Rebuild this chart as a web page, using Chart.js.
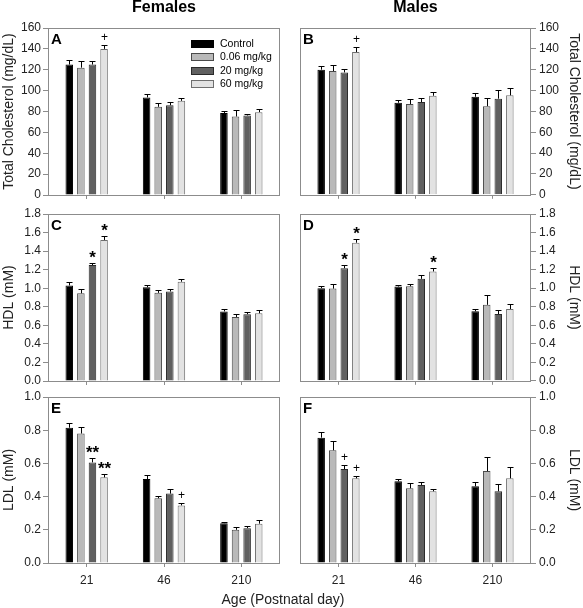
<!DOCTYPE html>
<html lang="en">
<head>
<meta charset="UTF-8">
<title>cholesterol</title>
<style>
    body { margin: 0; background: #fff; width: 583px; height: 608px; position: relative; overflow: hidden;
           font-family: "Liberation Sans", Arial, sans-serif; }
    canvas { position: absolute; }
    #xtitle { position: absolute; left: 0; width: 566px; top: 591px; text-align: center;
              font-size: 14px; line-height: 16px; color: #222; }
</style>
</head>
<body>

<canvas id="cA" width="290" height="205" style="left:0;top:0"></canvas>
<canvas id="cB" width="293" height="205" style="left:290px;top:0"></canvas>
<canvas id="cC" width="290" height="196" style="left:0;top:195px"></canvas>
<canvas id="cD" width="293" height="196" style="left:290px;top:195px"></canvas>
<canvas id="cE" width="290" height="212" style="left:0;top:381px"></canvas>
<canvas id="cF" width="293" height="212" style="left:290px;top:381px"></canvas>
<div id="xtitle">Age (Postnatal day)</div>

<script src="https://cdn.jsdelivr.net/npm/chart.js"></script>

<script>
    const ages = ["21", "46", "210"];
    const doses = ["Control", "0.06 mg/kg", "20 mg/kg", "60 mg/kg"];

    // tick labels per row
    const tcTicks = ["0", "20", "40", "60", "80", "100", "120", "140", "160"];
    const hdlTicks = ["0.0", "0.2", "0.4", "0.6", "0.8", "1.0", "1.2", "1.4", "1.6", "1.8"];
    const ldlTicks = ["0.0", "0.2", "0.4", "0.6", "0.8", "1.0"];

    // one row per dose, one value per age (21, 46, 210)
    const tcFemale = [[125, 93.5, 78.5], [122, 84.5, 75.2], [125, 86, 76.2], [140, 90.2, 79.4]];
    const tcFemaleErr = [[4, 3.5, 2.2], [6, 3.5, 6.4], [3, 3, 1.5], [3.5, 2.6, 3]];
    const tcFemaleSig = [["", "", ""], ["", "", ""], ["", "", ""], ["+", "", ""]];

    const tcMale = [[120, 88.3, 94], [118.7, 87, 85], [117.4, 89, 92.2], [137, 95, 95.4]];
    const tcMaleErr = [[3.5, 2.3, 3.5], [5.8, 4.8, 7.7], [3.2, 3.5, 8.3], [5, 3.2, 7.4]];
    const tcMaleSig = [["", "", ""], ["", "", ""], ["", "", ""], ["+", "", ""]];

    const hdlFemale = [[1.03, 1.01, 0.75], [0.945, 0.95, 0.69], [1.25, 0.965, 0.72], [1.52, 1.07, 0.73]];
    const hdlFemaleErr = [[0.033, 0.029, 0.022], [0.047, 0.036, 0.029], [0.022, 0.025, 0.022], [0.046, 0.025, 0.036]];
    const hdlFemaleSig = [["", "", ""], ["", "", ""], ["*", "", ""], ["*", "", ""]];

    const hdlMale = [[1.0, 1.017, 0.75], [0.995, 1.02, 0.82], [1.215, 1.10, 0.72], [1.49, 1.18, 0.775]];
    const hdlMaleErr = [[0.02, 0.014, 0.022], [0.047, 0.029, 0.104], [0.033, 0.04, 0.047], [0.043, 0.04, 0.058]];
    const hdlMaleSig = [["", "", ""], ["", "", ""], ["*", "", ""], ["*", "*", ""]];

    const ldlFemale = [[0.815, 0.506, 0.24], [0.78, 0.39, 0.2], [0.606, 0.418, 0.21], [0.516, 0.347, 0.237]];
    const ldlFemaleErr = [[0.03, 0.026, 0.01], [0.04, 0.012, 0.014], [0.025, 0.028, 0.012], [0.022, 0.012, 0.02]];
    const ldlFemaleSig = [["", "", ""], ["", "", ""], ["**", "", ""], ["**", "+", ""]];

    const ldlMale = [[0.755, 0.492, 0.462], [0.679, 0.45, 0.554], [0.566, 0.47, 0.432], [0.51, 0.432, 0.51]];
    const ldlMaleErr = [[0.032, 0.016, 0.028], [0.054, 0.034, 0.087], [0.026, 0.016, 0.046], [0.016, 0.016, 0.068]];
    const ldlMaleSig = [["", "", ""], ["", "", ""], ["+", "", ""], ["+", "", ""]];

    const fills = ["#000000", "#b9b9b9", "#606060", "#e2e2e2"];
    const edges = ["#000000", "#4a4a4a", "#2a2a2a", "#6e6e6e"];
    const FONT = '"Liberation Sans", Arial, sans-serif';
    const boxGray = "#8c8c8c";

    Chart.defaults.font.family = FONT;
    Chart.defaults.color = "#222";

    // draws error bars, significance marks, frame, panel letter and (panel A) the legend
    function panelPlugin(p) {
        return {
            id: "panel" + p.letter,
            afterDatasetsDraw(chart) {
                const ctx = chart.ctx, a = chart.chartArea, ys = chart.scales.y;
                ctx.save();
                chart.data.datasets.forEach((ds, i) => {
                    chart.getDatasetMeta(i).data.forEach((bar, j) => {
                        const x = Math.round(bar.x) + 0.5;
                        const top = Math.round(ys.getPixelForValue(ds.data[j] + p.err[i][j])) + 0.5;
                        ctx.strokeStyle = "#000";
                        ctx.lineWidth = 1;
                        ctx.beginPath();
                        ctx.moveTo(x, bar.y);
                        ctx.lineTo(x, top);
                        ctx.moveTo(x - 3, top);
                        ctx.lineTo(x + 3, top);
                        ctx.stroke();
                        const s = p.sig[i][j];
                        if (s) {
                            ctx.fillStyle = "#000";
                            ctx.textAlign = "center";
                            ctx.textBaseline = "alphabetic";
                            if (s === "+") {
                                ctx.font = "12px " + FONT;
                                ctx.fillText(s, x, top - 5);
                            } else {
                                ctx.font = "bold 17px " + FONT;
                                ctx.fillText(s, x, top - 1);
                            }
                        }
                    });
                });
                // frame round the plot
                ctx.strokeStyle = boxGray;
                ctx.lineWidth = 1;
                ctx.strokeRect(Math.round(a.left) + 0.5, Math.round(a.top) + 0.5,
                    Math.round(a.width) - 1, Math.round(a.height));
                // panel letter
                ctx.fillStyle = "#000";
                ctx.textAlign = "left";
                ctx.textBaseline = "alphabetic";
                ctx.font = "bold 15px " + FONT;
                ctx.fillText(p.letter, a.left + 3, a.top + 15.5);
                if (p.legend) {
                    ctx.font = "10.5px " + FONT;
                    chart.data.datasets.forEach((ds, i) => {
                        const bx = Math.round(a.left + 143), by = Math.round(a.top + 12 + i * 13.4);
                        ctx.fillStyle = ds.backgroundColor;
                        ctx.fillRect(bx, by, 23, 8);
                        ctx.strokeStyle = ds.borderColor;
                        ctx.strokeRect(bx + 0.5, by + 0.5, 22, 7);
                        ctx.fillStyle = "#000";
                        ctx.textBaseline = "middle";
                        ctx.fillText(ds.label, bx + 29, by + 4.5);
                    });
                }
                ctx.restore();
            }
        };
    }

    function makePanel(id, p) {
        const left = p.side === "left";
        const datasets = doses.map((d, i) => ({
            label: d,
            data: p.values[i],
            backgroundColor: fills[i],
            borderColor: edges[i],
            borderWidth: 1,
            categoryPercentage: 0.6,
            barPercentage: 0.65
        }));
        new Chart(document.getElementById(id), {
            type: "bar",
            data: { labels: ages, datasets: datasets },
            options: {
                responsive: false,
                animation: false,
                layout: { padding: { top: p.padTop, left: left ? 0 : 10, right: left ? 10 : 0, bottom: 0 } },
                plugins: {
                    legend: { display: false },
                    tooltip: { enabled: false },
                    title: {
                        display: !!p.colTitle,
                        text: p.colTitle || "",
                        fullSize: false,
                        color: "#000",
                        font: { size: 16, weight: "bold", lineHeight: 1 },
                        padding: { top: 0, bottom: 12 }
                    }
                },
                scales: {
                    x: {
                        offset: true,
                        grid: { offset: false, drawOnChartArea: false, tickLength: 4, color: boxGray },
                        border: { display: false },
                        ticks: { display: p.bottom, font: { size: 12 }, color: "#222", padding: 6, maxRotation: 0 },
                        afterFit: s => { s.height = p.bottom ? 30 : 10; }
                    },
                    y: {
                        position: p.side,
                        min: +p.ticks[0],
                        max: +p.ticks[p.ticks.length - 1],
                        afterBuildTicks: s => { s.ticks = p.ticks.map(t => ({ value: +t })); },
                        afterFit: s => { s.width = left ? 48 : 52; },
                        grid: { drawOnChartArea: false, tickLength: 5, color: boxGray },
                        border: { display: false },
                        ticks: {
                            callback: (v, i) => p.ticks[i],
                            font: { size: 12 },
                            color: "#222",
                            padding: left ? 2 : 3
                        },
                        title: {
                            display: true,
                            text: p.yTitle,
                            color: "#222",
                            font: { size: 14 },
                            padding: { top: 1, bottom: 0 }
                        }
                    }
                }
            },
            plugins: [panelPlugin(p)]
        });
    }

    makePanel("cA", { letter: "A", side: "left", colTitle: "Females", padTop: 0, bottom: false, legend: true,
        values: tcFemale, err: tcFemaleErr, sig: tcFemaleSig, ticks: tcTicks, yTitle: "Total Cholesterol (mg/dL)" });
    makePanel("cB", { letter: "B", side: "right", colTitle: "Males", padTop: 0, bottom: false,
        values: tcMale, err: tcMaleErr, sig: tcMaleSig, ticks: tcTicks, yTitle: "Total Cholesterol (mg/dL)" });
    makePanel("cC", { letter: "C", side: "left", padTop: 19, bottom: false,
        values: hdlFemale, err: hdlFemaleErr, sig: hdlFemaleSig, ticks: hdlTicks, yTitle: "HDL (mM)" });
    makePanel("cD", { letter: "D", side: "right", padTop: 19, bottom: false,
        values: hdlMale, err: hdlMaleErr, sig: hdlMaleSig, ticks: hdlTicks, yTitle: "HDL (mM)" });
    makePanel("cE", { letter: "E", side: "left", padTop: 16, bottom: true,
        values: ldlFemale, err: ldlFemaleErr, sig: ldlFemaleSig, ticks: ldlTicks, yTitle: "LDL (mM)" });
    makePanel("cF", { letter: "F", side: "right", padTop: 16, bottom: true,
        values: ldlMale, err: ldlMaleErr, sig: ldlMaleSig, ticks: ldlTicks, yTitle: "LDL (mM)" });
</script>
</body>
</html>
